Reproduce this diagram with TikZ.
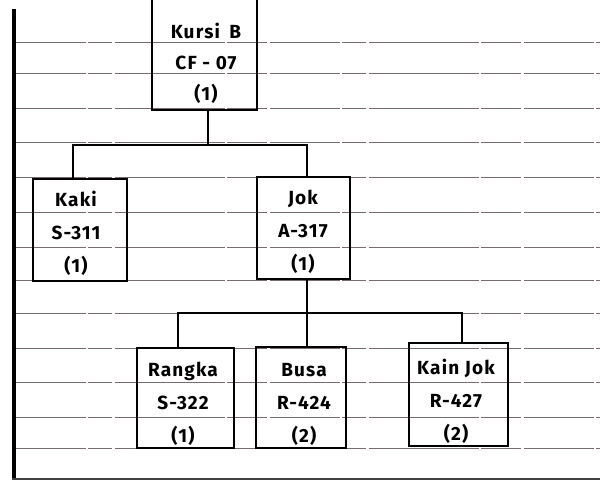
\documentclass[tikz,border=0pt]{standalone}
\usepackage{fontspec}
\setmainfont{Fira Sans}[LetterSpace=6]
\begin{document}
\begin{tikzpicture}[x=1pt,y=-1pt,
  rule/.style={line width=0.9pt,color={rgb,255:red,120;green,108;blue,114},
    dash pattern=on 70pt off 2pt on 24pt off 3pt on 110pt off 2pt on 40pt off 3pt},
  part/.style={draw,line width=2.2pt,rectangle,inner sep=0pt},
  txt/.style={font=\fontsize{19}{33}\selectfont\bfseries,align=center,inner sep=0pt},
  link/.style={line width=2pt}]
  \useasboundingbox (0,0) rectangle (600,480);
  \clip (0,0) rectangle (600,480);
  \fill[white] (0,0) rectangle (600,480);

  % ruled paper
  \foreach \y in {42,73,108,142,177,212,247,280,313,348,382,417,448}
    \draw[rule] (16,\y) -- (600,\y);
  % margin bar and bottom edge
  \draw[line width=3.5pt] (14,9) -- (14,480);
  \draw[line width=1.5pt,color=black!75] (12,479) -- (600,479);

  % parts
  \node[part,minimum width=105pt,minimum height=120pt] (kursi) at (204.5,50) {};
  \node[txt] (kursiT) at (206,63.5) {Kursi\enspace B\\[-2pt]CF - 07\\[-2pt](1)};

  \node[part,minimum width=94pt,minimum height=102pt] (kaki) at (80,230) {};
  \node[txt] (kakiT) at (76,233) {Kaki\\S-311\\(1)};

  \node[part,minimum width=93pt,minimum height=102pt] (jok) at (303.5,228) {};
  \node[txt] (jokT) at (303,232) {Jok\\A-317\\(1)};

  \node[part,minimum width=97pt,minimum height=100pt] (rangka) at (185.5,398) {};
  \node[txt] (rangkaT) at (183,404) {Rangka\\S-322\\(1)};

  \node[part,minimum width=90pt,minimum height=101pt] (busa) at (301,397.5) {};
  \node[txt] (busaT) at (304,404) {Busa\\R-424\\(2)};

  \node[part,minimum width=99pt,minimum height=103pt] (kain) at (458.5,394.5) {};
  \node[txt] (kainT) at (456,401) {Kain Jok\\R-427\\(2)};

  % connectors
  \coordinate (bus1) at (208,145);
  \coordinate (bus2) at (307,313);
  \draw[link] ([xshift=3.5pt]kursi.south) -- (bus1);
  \draw[link] ([xshift=-7pt]kaki.north) |- (bus1) -| ([xshift=3.5pt]jok.north);
  \draw[link] ([xshift=3.5pt]jok.south) -- (bus2);
  \draw[link] ([xshift=-7.5pt]rangka.north) |- (bus2) -| ([xshift=3.5pt]kain.north);
  \draw[link] ([xshift=6pt]busa.north) -- (bus2);
\end{tikzpicture}
\end{document}
